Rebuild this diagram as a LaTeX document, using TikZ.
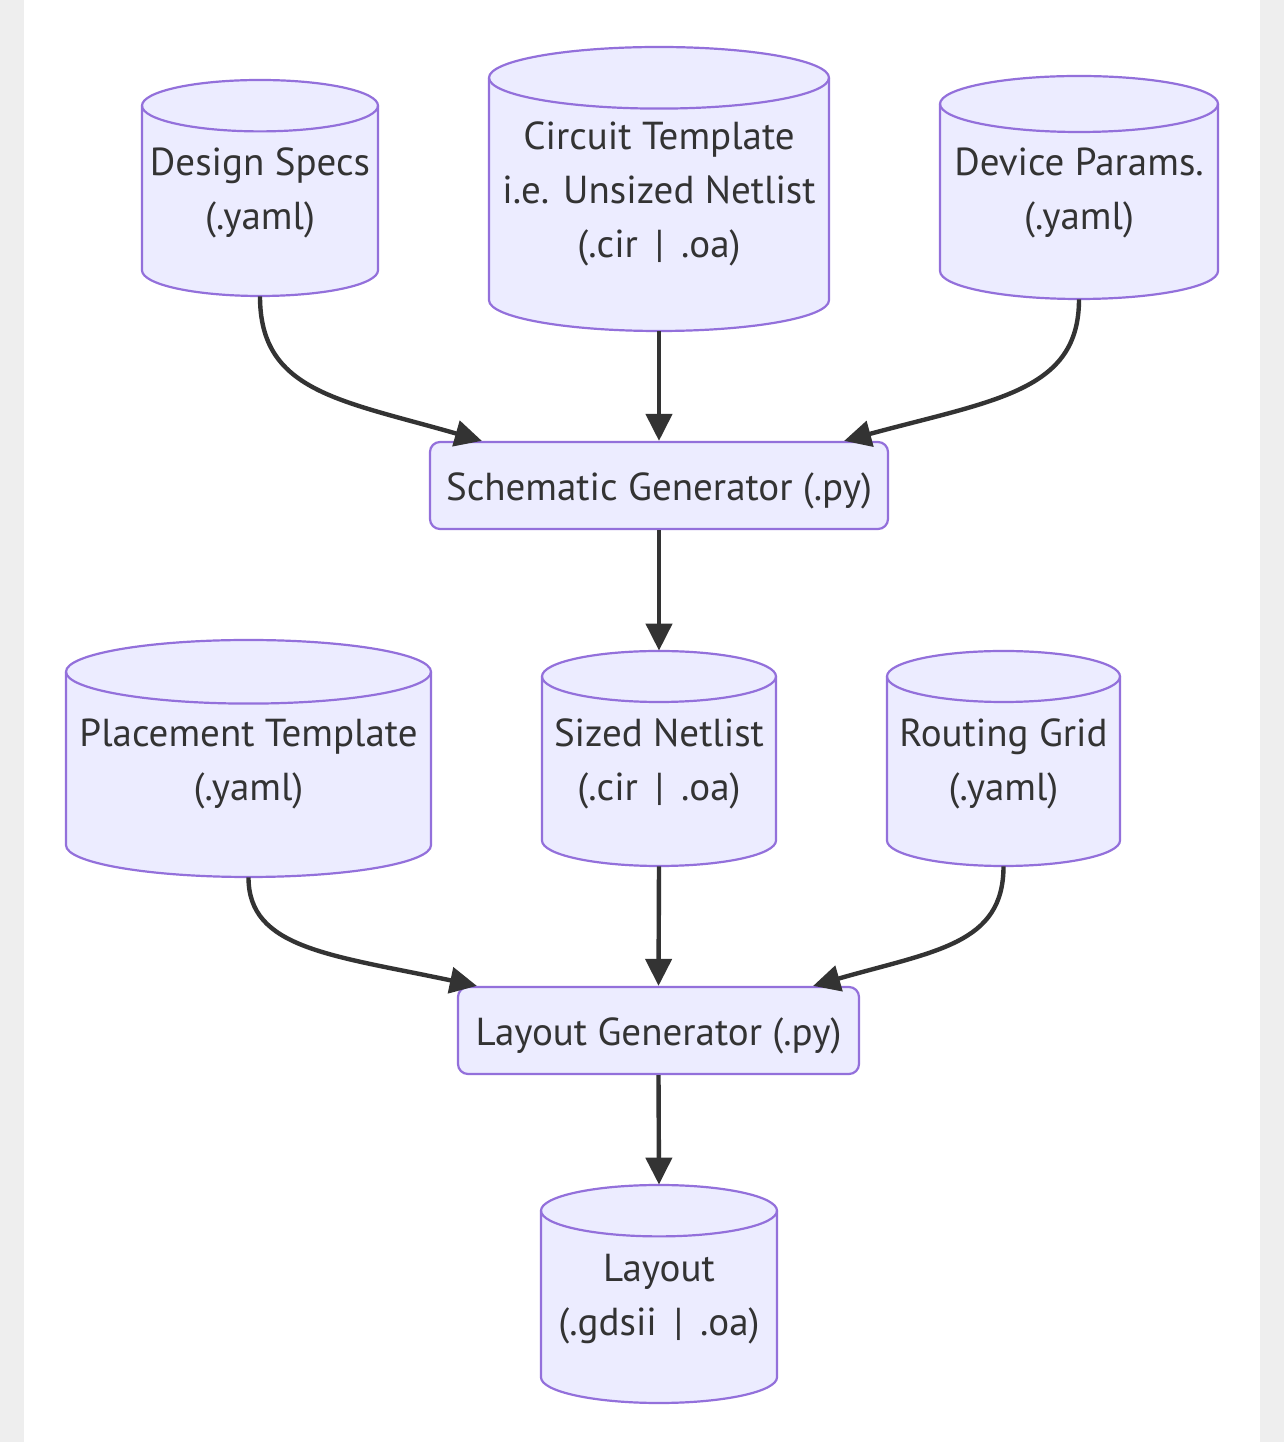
\documentclass[tikz,border=0pt]{standalone}
\usepackage{fontspec}
\setmainfont{PT Sans}
\usetikzlibrary{arrows.meta,calc}
\definecolor{nodefill}{HTML}{ECECFF}
\definecolor{nodeline}{HTML}{9370DB}
\definecolor{txt}{HTML}{333333}
\definecolor{bggray}{HTML}{EEEEEE}
\newcommand{\cylnode}[7]{%
  \path[cylshape] ({#2-#5},{#3-#6}) -- ({#2-#5},{#4+#6})
    arc[start angle=180,end angle=360,x radius=#5,y radius=#6]
    -- ({#2+#5},{#3-#6})
    arc[start angle=0,end angle=180,x radius=#5,y radius=#6] -- cycle;
  \draw[cylline] ({#2-#5},{#3-#6})
    arc[start angle=180,end angle=360,x radius=#5,y radius=#6];
  \node[cylbody,minimum width={#5*1pt},minimum height={(#3-#4)*0.5pt}] (#1) at (#2,{(#3+#4)/2}) {};
  \node[cyltext] at ($(#1.center)+(0,-5)$) {#7};
}
\begin{document}
\begin{tikzpicture}[x=0.5pt,y=0.5pt,
  cylshape/.style={fill=nodefill,draw=nodeline,line width=1.1pt},
  cylline/.style={draw=nodeline,line width=1.1pt},
  cylbody/.style={inner sep=0pt},
  cyltext/.style={inner sep=0pt,text=txt,align=center,font=\fontsize{19.5}{27}\selectfont},
  procbox/.style={draw=nodeline,fill=nodefill,line width=1.1pt,rounded corners=5pt,inner sep=0pt,
     minimum height=43.5pt},
  proctext/.style={inner sep=0pt,text=txt,font=\fontsize{19.5}{27}\selectfont},
  arr/.style={draw=txt,line width=2.2pt,-{Triangle[length=13.5pt,width=13pt]}}]
\useasboundingbox (0,0) rectangle (1284,1442);
\fill[bggray] (0,0) rectangle (1284,1442);
\fill[white] (24,0) rectangle (1260,1442);
% top row cylinders
\cylnode{ds}{260}{1362}{1146}{118}{25.7}{Design Specs\\(.yaml)}
\cylnode{ct}{659}{1395}{1111}{170}{30.8}{Circuit Template\\i.e. Unsized Netlist\\(.cir \,|\, .oa)}
\cylnode{dp}{1079}{1366}{1143}{139}{28}{Device Params.\\(.yaml)}
% schematic generator
\node[procbox,minimum width=229pt] (sg) at (659,956.5) {};
\node[proctext] at ($(sg.center)+(0,-5)$) {Schematic Generator (.py)};
% middle row cylinders
\cylnode{pt}{248.5}{802}{565}{182.5}{31.8}{Placement Template\\(.yaml)}
\cylnode{sn}{659}{791}{576}{117}{25.5}{Sized Netlist\\(.cir \,|\, .oa)}
\cylnode{rg}{1003.5}{791}{576}{116.5}{25.5}{Routing Grid\\(.yaml)}
% layout generator
\node[procbox,minimum width=200.5pt] (lg) at (658.5,411.5) {};
\node[proctext] at ($(lg.center)+(0,-5)$) {Layout Generator (.py)};
% layout
\cylnode{lo}{659}{257}{39}{118}{25.7}{Layout\\(.gdsii \,|\, .oa)}
% connectors
\coordinate (e1) at ($(sg.north west)+(53,0)$);
\coordinate (e2) at ($(sg.north east)+(-45,0)$);
\coordinate (e3) at ($(lg.north west)+(20,0)$);
\coordinate (e4) at ($(lg.north east)+(-47,0)$);
\draw[arr] (ds.south) .. controls ($(ds.south)+(0,-95)$) and ($(e1)+(-143,41)$) .. (e1);
\draw[arr] (ct.south) -- (sg.north);
\draw[arr] (dp.south) .. controls ($(dp.south)+(0,-92)$) and ($(e2)+(151,41)$) .. (e2);
\draw[arr] (sg.south) -- (sn.north);
\draw[arr] (pt.south) .. controls ($(pt.south)+(0,-71)$) and ($(e3)+(-147,31)$) .. (e3);
\draw[arr] (sn.south) -- (lg.north);
\draw[arr] (rg.south) .. controls ($(rg.south)+(0,-78)$) and ($(e4)+(122,35)$) .. (e4);
\draw[arr] (lg.south) -- (lo.north);
\end{tikzpicture}
\end{document}
